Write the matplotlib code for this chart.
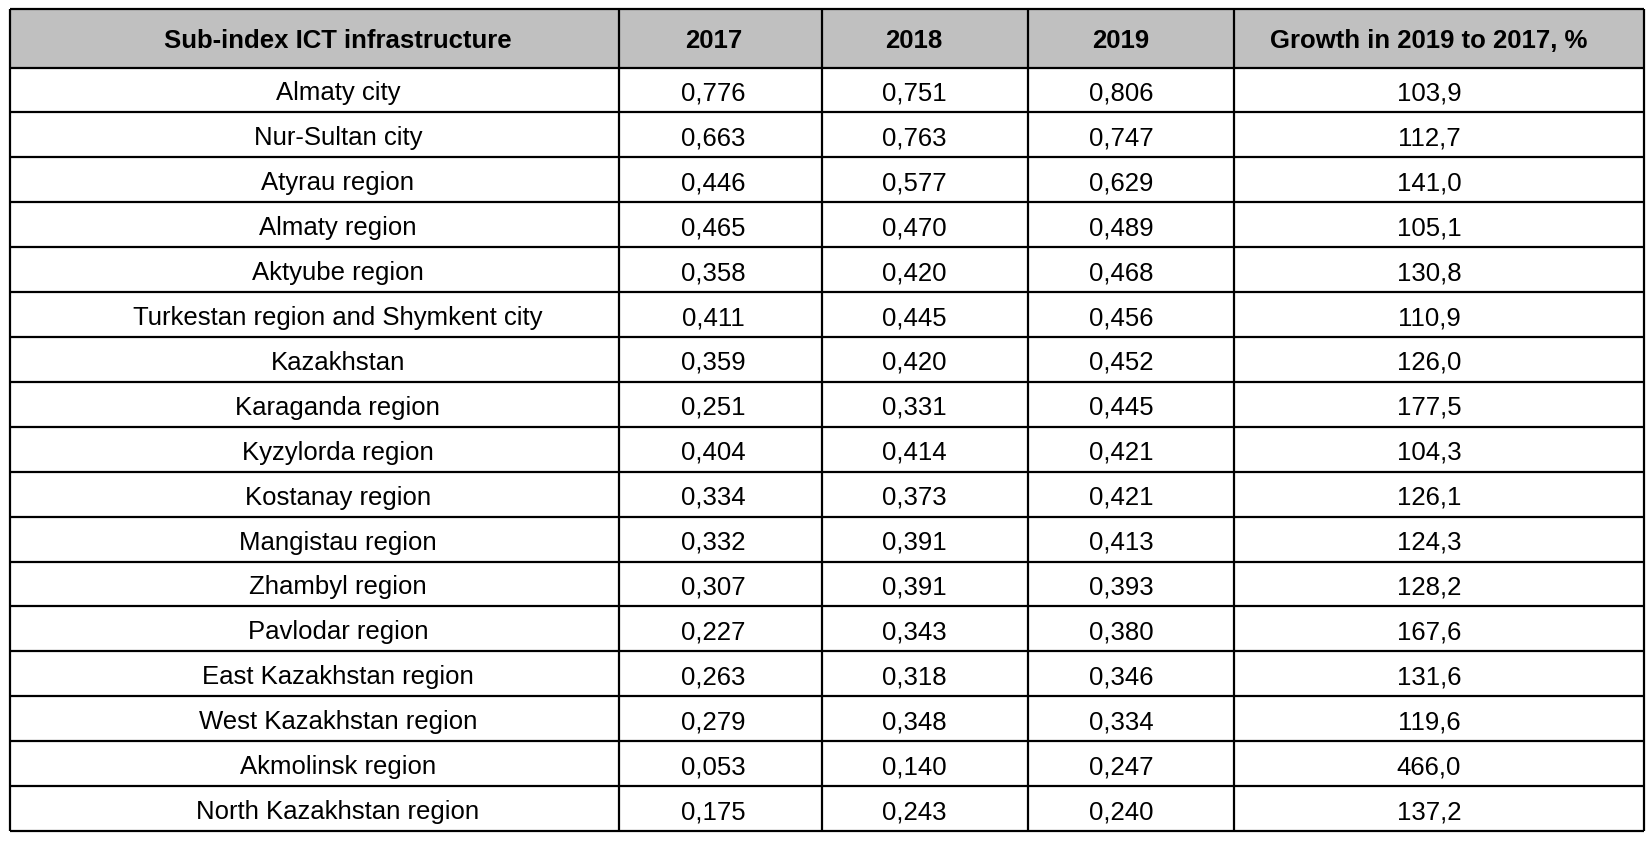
import matplotlib
matplotlib.use("Agg")
import matplotlib.pyplot as plt
from matplotlib.patches import Rectangle

plt.rcParams['font.family'] = ['Liberation Sans', 'DejaVu Sans']

# table data
header = ["Sub-index ICT infrastructure", "2017", "2018", "2019", "Growth in 2019 to 2017, %"]
regions = ["Almaty city", "Nur-Sultan city", "Atyrau region", "Almaty region",
           "Aktyube region", "Turkestan region and Shymkent city", "Kazakhstan",
           "Karaganda region", "Kyzylorda region", "Kostanay region",
           "Mangistau region", "Zhambyl region", "Pavlodar region",
           "East Kazakhstan region", "West Kazakhstan region", "Akmolinsk region",
           "North Kazakhstan region"]
v2017 = ["0,776", "0,663", "0,446", "0,465", "0,358", "0,411", "0,359", "0,251", "0,404",
         "0,334", "0,332", "0,307", "0,227", "0,263", "0,279", "0,053", "0,175"]
v2018 = ["0,751", "0,763", "0,577", "0,470", "0,420", "0,445", "0,420", "0,331", "0,414",
         "0,373", "0,391", "0,391", "0,343", "0,318", "0,348", "0,140", "0,243"]
v2019 = ["0,806", "0,747", "0,629", "0,489", "0,468", "0,456", "0,452", "0,445", "0,421",
         "0,421", "0,413", "0,393", "0,380", "0,346", "0,334", "0,247", "0,240"]
growth = ["103,9", "112,7", "141,0", "105,1", "130,8", "110,9", "126,0", "177,5", "104,3",
          "126,1", "124,3", "128,2", "167,6", "131,6", "119,6", "466,0", "137,2"]

# layout in pixels
W, H = 1650, 845
col_edges = [9.5, 619, 822, 1028, 1234, 1644]
x_shift = [23.5, -7, -11, -10, -10]   # text sits a little off the cell centre
top, head_bottom, bottom = 9.5, 68.5, 832
n = len(regions)
row_h = (bottom - head_bottom) / n

fig = plt.figure(figsize=(W / 100, H / 100), dpi=100)
ax = fig.add_axes([0, 0, 1, 1])
ax.set_xlim(0, W)
ax.set_ylim(H, 0)
ax.axis('off')

ax.add_patch(Rectangle((col_edges[0], top), col_edges[-1] - col_edges[0],
                       head_bottom - top, facecolor="#c0c0c0", edgecolor="none"))

fs = 18.5
centers = [(col_edges[i] + col_edges[i + 1]) / 2 + x_shift[i] for i in range(5)]
for c, txt in zip(centers, header):
    ax.text(c, (top + head_bottom) / 2 + 1.5, txt, ha='center', va='center',
            fontsize=fs, fontweight='bold', color='black')

cols = [regions, v2017, v2018, v2019, growth]
for i in range(n):
    yc = head_bottom + (i + 0.5) * row_h + 2.5
    for c, col in zip(centers, cols):
        ax.text(c, yc, col[i], ha='center', va='center', fontsize=fs, color='black')

lw = 1.6
ax.hlines([top, head_bottom] + [head_bottom + k * row_h for k in range(1, n + 1)],
          col_edges[0], col_edges[-1], color='black', linewidth=lw)
ax.vlines(col_edges, top, bottom, color='black', linewidth=lw)

fig.savefig("out.png", dpi=100, facecolor='white')
